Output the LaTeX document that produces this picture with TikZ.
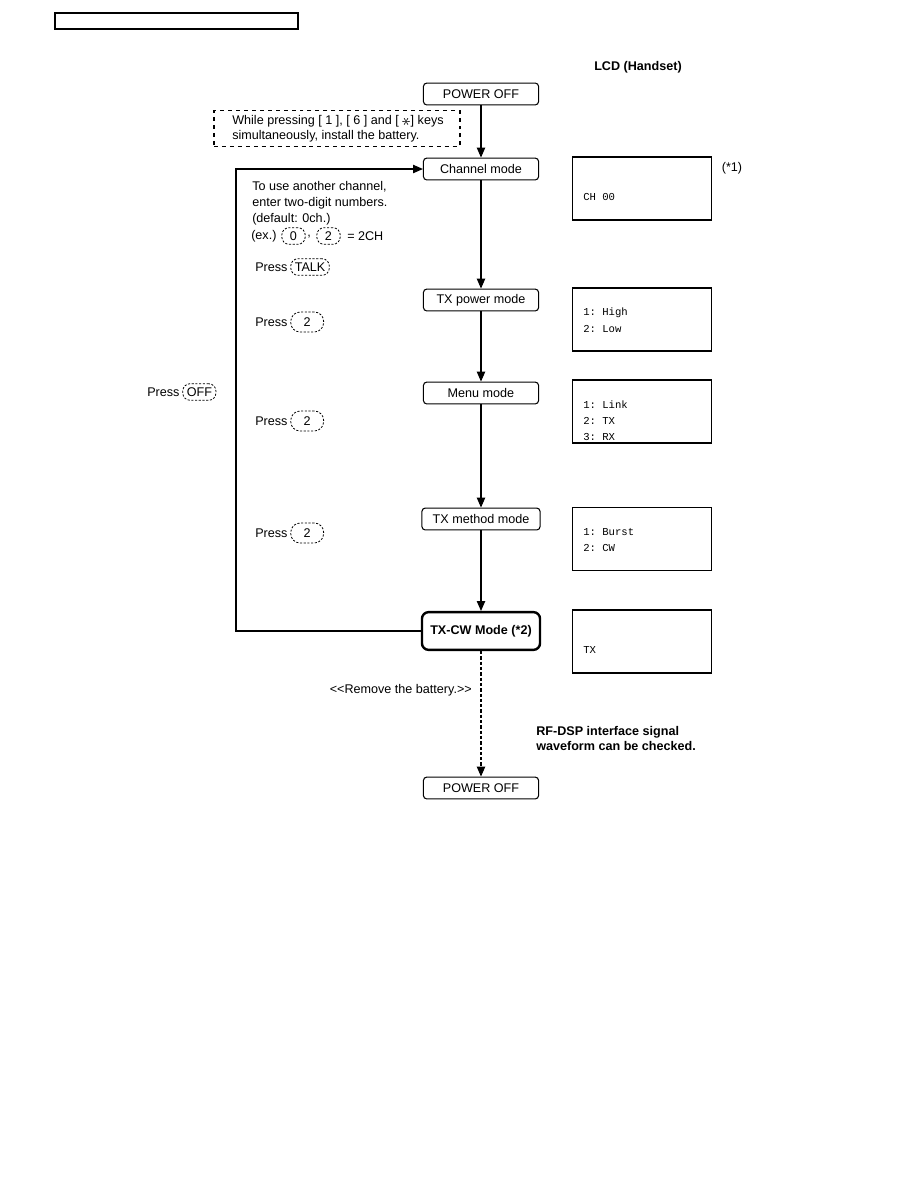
\documentclass[tikz,border=0pt]{standalone}
\usepackage{fontspec}
\setmainfont{Liberation Sans}
\newfontfamily\lcdfont{Liberation Mono}
\usetikzlibrary{positioning, arrows.meta}

\begin{document}
\begin{tikzpicture}[x=0.0265cm, y=-0.0265cm,
    every node/.append style={font=\fontsize{9.5}{11.5}\selectfont},
    mode/.style={draw, line width=0.8pt, rounded corners=2.5pt, minimum width=3.05cm, minimum height=0.58cm, inner sep=0pt},
    lcd/.style={draw, line width=0.8pt, minimum width=3.66cm, minimum height=1.67cm},
    lcdtxt/.style={anchor=west, inner sep=0pt, font=\lcdfont\fontsize{8}{11}\selectfont},
    txt/.style={anchor=west, inner sep=0pt},
    keyc/.style={draw, dash pattern=on 1.6pt off 1.2pt, line width=0.6pt, rounded corners=5.5pt, inner xsep=3pt, inner ysep=0pt, minimum height=0.44cm},
    keysm/.style={keyc, minimum width=0.62cm},
    keytwo/.style={keyc, minimum width=0.87cm, minimum height=0.53cm, rounded corners=7pt},
    arr/.style={-{Triangle[length=2.6mm,width=2.2mm]}, line width=0.8pt}]
    \useasboundingbox (0,0) rectangle (918,1188);

    % Header box
    \draw[line width=0.9pt] (55,13) rectangle (298,29);

    \node[font=\bfseries\fontsize{9.5}{11.5}\selectfont] (lcdhead) at (638,67) {LCD (Handset)};

    % Flow of modes
    \node[mode] (poff1) at (481,94) {POWER OFF};
    \node[draw, dashed, line width=0.8pt, minimum width=6.52cm, minimum height=0.93cm] (note) at (337,128.5) {};
    \node[txt, align=left, font=\fontsize{9.5}{11.3}\selectfont] (notetxt) at (232,128.5)
        {While pressing [ 1 ], [ 6 ] and [ \raisebox{-0.4ex}{\scalebox{1.5}{\rotatebox{90}{$\ast$}}}] keys\\simultaneously, install the battery.};
    \node[mode] (chan) at (481,169) {Channel mode};
    \node[mode] (txpow) at (481,300) {TX power mode};
    \node[mode] (menu) at (481,393) {Menu mode};
    \node[mode, minimum width=3.13cm] (txmeth) at (481,519) {TX method mode};
    \node[mode, minimum width=3.13cm, minimum height=1cm, line width=1.8pt, rounded corners=5pt, font=\bfseries\fontsize{9.5}{11.5}\selectfont] (txcw) at (481,631) {TX-CW Mode (*2)};
    \node[mode] (poff2) at (481,788) {POWER OFF};

    \draw[arr] (poff1) -- (chan);
    \draw[arr] (chan) -- (txpow);
    \draw[arr] (txpow) -- (menu);
    \draw[arr] (menu) -- (txmeth);
    \draw[arr] (txmeth) -- (txcw);
    \draw[arr, dash pattern=on 2.5pt off 1.5pt] (txcw) -- (poff2);

    % Return loop
    \coordinate (loop) at (236,631);
    \draw[arr] (txcw.west) -- (loop) |- (chan.west);

    % LCD displays
    \node[lcd] (lcd1) at (642,188.5) {};
    \node[lcdtxt] (lcd1a) at (583,197) {CH 00};
    \node (star1) at (732,168) {(*1)};

    \node[lcd] (lcd2) at (642,319.5) {};
    \node[lcdtxt] (lcd2a) at (583,313) {1:~High};
    \node[lcdtxt] (lcd2b) at (583,329) {2:~Low};

    \node[lcd] (lcd3) at (642,411.5) {};
    \node[lcdtxt] (lcd3a) at (583,405) {1:~Link};
    \node[lcdtxt] (lcd3b) at (583,421) {2:~TX};
    \node[lcdtxt] (lcd3c) at (583,437) {3:~RX};

    \node[lcd] (lcd4) at (642,539) {};
    \node[lcdtxt] (lcd4a) at (583,532) {1:~Burst};
    \node[lcdtxt] (lcd4b) at (583,548) {2:~CW};

    \node[lcd] (lcd5) at (642,641.5) {};
    \node[lcdtxt] (lcd5a) at (583,650) {TX};

    % Key presses
    \node[txt, align=left, font=\fontsize{9.5}{12}\selectfont] (chtxt) at (252,203)
        {To use another channel,\\enter two-digit numbers.\\(default: 0ch.)};
    \node[txt] (ex) at (251,236) {(ex.)};
    \node[keysm] (kzero) at (293.5,236) {0};
    \node[txt] (comma) at (307,237) {,};
    \node[keysm] (ktwo) at (328.5,236) {2};
    \node[txt] (eqch) at (347,236) {= 2CH};

    \node[txt] (ptalk) at (255,267) {Press};
    \node[keyc, right=2pt of ptalk] (ktalk) {TALK};
    \node[txt] (p1) at (255,322) {Press};
    \node[keytwo, right=2pt of p1] (k1) {2};
    \node[txt] (p2) at (255,421) {Press};
    \node[keytwo, right=2pt of p2] (k2) {2};
    \node[txt] (p3) at (255,533) {Press};
    \node[keytwo, right=2pt of p3] (k3) {2};
    \node[txt] (poff) at (147,392) {Press};
    \node[keyc, right=2pt of poff] (koff) {OFF};

    % Notes
    \node[anchor=east, inner sep=0pt] (remove) at (472,690) {{<}{<}Remove the battery.{>}{>}};
    \node[txt, align=left, font=\bfseries\fontsize{9.5}{11.5}\selectfont] (rfdsp) at (536,738.5)
        {RF-DSP interface signal\\waveform can be checked.};
\end{tikzpicture}
\end{document}
